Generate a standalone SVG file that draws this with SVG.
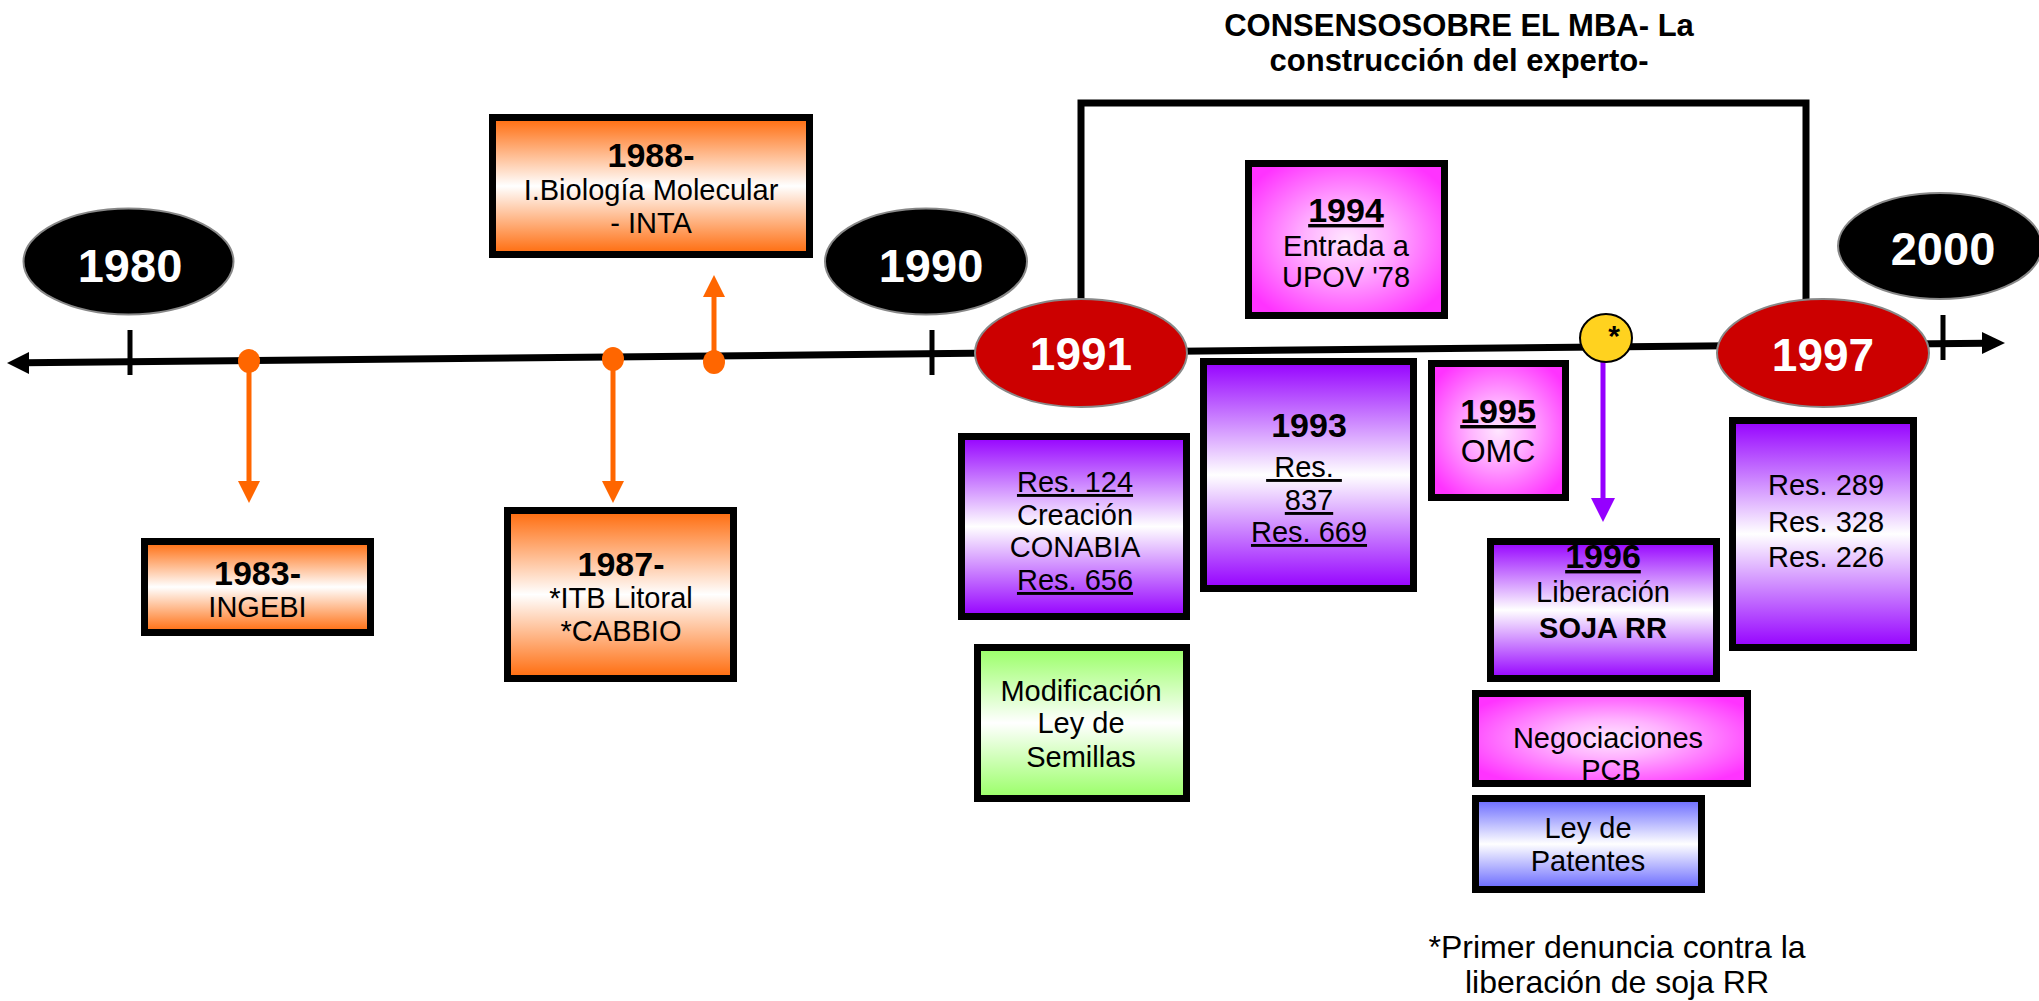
<svg xmlns="http://www.w3.org/2000/svg" width="2039" height="1001" viewBox="0 0 2039 1001">
<defs>
<linearGradient id="gOrange" x1="0" y1="0" x2="0" y2="1">
<stop offset="0" stop-color="#FF6A0A"/><stop offset="0.5" stop-color="#FFFFFF"/><stop offset="1" stop-color="#FF6A0A"/>
</linearGradient>
<linearGradient id="gPurple" x1="0" y1="0" x2="0" y2="1">
<stop offset="0" stop-color="#9500FF"/><stop offset="0.5" stop-color="#FFFFFF"/><stop offset="1" stop-color="#9500FF"/>
</linearGradient>
<linearGradient id="gGreen" x1="0" y1="0" x2="0" y2="1">
<stop offset="0" stop-color="#99FF66"/><stop offset="0.5" stop-color="#FFFFFF"/><stop offset="1" stop-color="#99FF66"/>
</linearGradient>
<linearGradient id="gBlue" x1="0" y1="0" x2="0" y2="1">
<stop offset="0" stop-color="#6666FF"/><stop offset="0.5" stop-color="#FFFFFF"/><stop offset="1" stop-color="#6666FF"/>
</linearGradient>
<radialGradient id="gMagenta" cx="0.5" cy="0.5" r="0.6">
<stop offset="0" stop-color="#FFE6FF"/><stop offset="0.35" stop-color="#FFB3FF"/><stop offset="1" stop-color="#FF33FF"/>
</radialGradient>
<marker id="mOrange" markerWidth="22" markerHeight="22" refX="11" refY="11" orient="auto" markerUnits="userSpaceOnUse" viewBox="0 0 22 22">
<path d="M0,0 L22,11 L0,22 z" fill="#FF6600"/>
</marker>
<marker id="mPurple" markerWidth="24" markerHeight="24" refX="12" refY="12" orient="auto" markerUnits="userSpaceOnUse" viewBox="0 0 24 24">
<path d="M0,0 L24,12 L0,24 z" fill="#9500FF"/>
</marker>
</defs>
<style>
.box{stroke:#000;stroke-width:7;}
.t{font-family:"Liberation Sans",Arial,sans-serif;font-size:29px;fill:#000;text-anchor:middle;}
.b{font-family:"Liberation Sans",Arial,sans-serif;font-size:34px;font-weight:bold;fill:#000;text-anchor:middle;}
.yr{font-family:"Liberation Sans",Arial,sans-serif;font-size:47px;font-weight:bold;fill:#fff;text-anchor:middle;}
.u{text-decoration:underline;}
.blk{fill:#000;stroke:#888;stroke-width:2;}
.red{fill:#CC0000;stroke:#888;stroke-width:2;}
</style>
<rect width="2039" height="1001" fill="#fff"/>

<g id="connectors">
<line x1="25" y1="362.8" x2="1985" y2="343.2" stroke="#000" stroke-width="7"/>
<path d="M7,363 L29,352 L29,374 z" fill="#000"/>
<path d="M2005,343 L1982,332 L1982,354 z" fill="#000"/>
<line x1="130" y1="330" x2="130" y2="375" stroke="#000" stroke-width="5"/>
<line x1="932" y1="330" x2="932" y2="375" stroke="#000" stroke-width="5"/>
<line x1="1943" y1="315" x2="1943" y2="360" stroke="#000" stroke-width="5"/>
<path d="M1081,300 L1081,103 L1806,103 L1806,300" fill="none" stroke="#000" stroke-width="7"/>
<line x1="249" y1="361" x2="249" y2="492" stroke="#FF6600" stroke-width="5" marker-end="url(#mOrange)"/>
<line x1="613" y1="359" x2="613" y2="492" stroke="#FF6600" stroke-width="5" marker-end="url(#mOrange)"/>
<line x1="714" y1="362" x2="714" y2="286" stroke="#FF6600" stroke-width="5" marker-end="url(#mOrange)"/>
<ellipse cx="249" cy="361" rx="11" ry="12" fill="#FF6600"/>
<ellipse cx="613" cy="359" rx="11" ry="12" fill="#FF6600"/>
<ellipse cx="714" cy="362" rx="11" ry="12" fill="#FF6600"/>
<line x1="1603" y1="362" x2="1603" y2="510" stroke="#9500FF" stroke-width="5" marker-end="url(#mPurple)"/>
</g>

<g id="n1980"><ellipse class="blk" cx="128.5" cy="261.5" rx="105" ry="53"/><text class="yr" x="130" y="282">1980</text></g>
<g id="n1990"><ellipse class="blk" cx="926" cy="261.5" rx="101" ry="53"/><text class="yr" x="931" y="282">1990</text></g>
<g id="n2000"><ellipse class="blk" cx="1940" cy="246" rx="102" ry="53"/><text class="yr" x="1943" y="265">2000</text></g>
<g id="n1991"><ellipse class="red" cx="1081" cy="353" rx="106" ry="54"/><text class="yr" x="1081" y="370" style="font-size:46px">1991</text></g>
<g id="n1997"><ellipse class="red" cx="1823" cy="353" rx="106" ry="54"/><text class="yr" x="1823" y="371" style="font-size:46px">1997</text></g>
<g id="nStar"><ellipse cx="1606" cy="338" rx="26" ry="24" fill="#FFD21F" stroke="#000" stroke-width="2"/><text class="b" x="1614" y="346" style="font-size:30px">*</text></g>

<g id="title">
<text class="b" x="1459" y="36" style="font-size:31px">CONSENSOSOBRE EL MBA- La</text>
<text class="b" x="1459" y="71" style="font-size:31px">construcción del experto-</text>
</g>

<g id="n1988"><rect class="box" x="492.5" y="117.5" width="317" height="137" fill="url(#gOrange)"/>
<text class="b" x="651" y="167">1988-</text><text class="t" x="651" y="200">I.Biología Molecular</text><text class="t" x="651" y="233">- INTA</text></g>
<g id="n1983"><rect class="box" x="144.5" y="541.5" width="226" height="91" fill="url(#gOrange)"/>
<text class="b" x="257.5" y="585">1983-</text><text class="t" x="257.5" y="617">INGEBI</text></g>
<g id="n1987"><rect class="box" x="507.5" y="510.5" width="226" height="168" fill="url(#gOrange)"/>
<text class="b" x="621" y="576">1987-</text><text class="t" x="621" y="608">*ITB Litoral</text><text class="t" x="621" y="641">*CABBIO</text></g>

<g id="n1994"><rect class="box" x="1248.5" y="163.5" width="196" height="152" fill="url(#gMagenta)"/>
<text class="b u" x="1346" y="222">1994</text><text class="t" x="1346" y="256">Entrada a</text><text class="t" x="1346" y="287">UPOV '78</text></g>
<g id="n1993"><rect class="box" x="1203.5" y="361.5" width="210" height="227" fill="url(#gPurple)"/>
<text class="b" x="1309" y="437">1993</text><text class="t u" x="1304" y="477" xml:space="preserve"> Res. </text><text class="t u" x="1309" y="510">837</text><text class="t u" x="1309" y="542">Res. 669</text></g>
<g id="n1995"><rect class="box" x="1431.5" y="363.5" width="134" height="134" fill="url(#gMagenta)"/>
<text class="b u" x="1498" y="423">1995</text><text class="t" x="1498" y="462" style="font-size:32px">OMC</text></g>
<g id="nRes124"><rect class="box" x="961.5" y="436.5" width="225" height="180" fill="url(#gPurple)"/>
<text class="t u" x="1075" y="492">Res. 124</text><text class="t" x="1075" y="525">Creación</text><text class="t" x="1075" y="557">CONABIA</text><text class="t u" x="1075" y="590">Res. 656</text></g>
<g id="nSemillas"><rect class="box" x="977.5" y="647.5" width="209" height="151" fill="url(#gGreen)"/>
<text class="t" x="1081" y="701">Modificación</text><text class="t" x="1081" y="733">Ley de</text><text class="t" x="1081" y="767">Semillas</text></g>
<g id="n1996"><rect class="box" x="1490.5" y="541.5" width="226" height="137" fill="url(#gPurple)"/>
<text class="b u" x="1603" y="568">1996</text><text class="t" x="1603" y="602">Liberación</text><text class="b" x="1603" y="638" style="font-size:29px">SOJA RR</text></g>
<g id="nPCB"><rect class="box" x="1475.5" y="693.5" width="272" height="90" fill="url(#gMagenta)"/>
<text class="t" x="1608" y="748">Negociaciones</text><text class="t" x="1611" y="780">PCB</text></g>
<g id="nPatentes"><rect class="box" x="1475.5" y="798.5" width="226" height="91" fill="url(#gBlue)"/>
<text class="t" x="1588" y="838">Ley de</text><text class="t" x="1588" y="871">Patentes</text></g>
<g id="nRes289"><rect class="box" x="1732.5" y="420.5" width="181" height="227" fill="url(#gPurple)"/>
<text class="t" x="1826" y="495">Res. 289</text><text class="t" x="1826" y="532">Res. 328</text><text class="t" x="1826" y="567">Res. 226</text></g>

<g id="footnote">
<text class="t" x="1617" y="958" style="font-size:32px">*Primer denuncia contra la</text>
<text class="t" x="1617" y="993" style="font-size:32px">liberación de soja RR</text>
</g>
</svg>
